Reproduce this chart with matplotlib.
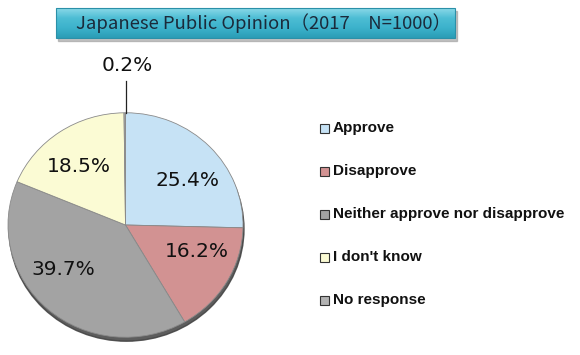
import matplotlib
matplotlib.use("Agg")
import matplotlib.pyplot as plt
import numpy as np
from matplotlib.patches import Rectangle, Ellipse
from matplotlib.transforms import Affine2D
from matplotlib.colors import LinearSegmentedColormap

categories = ["Approve", "Disapprove", "Neither approve nor disapprove", "I don't know", "No response"]
values = [25.4, 16.2, 39.7, 18.5, 0.2]
colors = ["#c6e2f5", "#d29292", "#a3a3a3", "#fbfbd4", "#b3b3b3"]
title = "Japanese Public Opinion（2017　N=1000）"

W, H = 580, 355
fig = plt.figure(figsize=(W/100, H/100), dpi=100)
ax = fig.add_axes([0, 0, 1, 1])

cx, cy, r = 125.5, H - 225, 117.5
yscale = 0.955
squash = Affine2D().translate(-cx, -cy).scale(1, yscale).translate(cx, cy)

explode = [0.035, 0, 0, 0, 0]
wedges, _ = ax.pie(values, colors=colors, startangle=90, counterclock=False,
                   center=(cx, cy), radius=r, explode=explode,
                   wedgeprops=dict(edgecolor="#8a8a8a", linewidth=0.6), frame=True)
for w in wedges:
    w.set_zorder(2)
    w.set_transform(squash + ax.transData)

# pie shadow
ax.add_patch(Ellipse((cx + 1, cy - 4), 2*r, 2*r*yscale, color="#404040", alpha=0.85, zorder=1))

ax.set_xlim(0, W)
ax.set_ylim(0, H)
ax.set_aspect('equal')
ax.axis('off')

# labels (offsets relative to pie centre, in radius units)
label_pos = [(0.53, 0.40), (0.61, -0.24), (-0.53, -0.40), (-0.40, 0.52)]
for (dx, dy), v in zip(label_pos, values[:4]):
    ax.text(cx + dx*r, cy + dy*r*yscale, f"{v:.1f}%", ha="center", va="center",
            fontsize=14.5, color="#111111", zorder=5)
# smallest slice label with leader line
top = cy + r*yscale
ax.plot([cx, cx], [top, top + 32], color="#222222", lw=0.9, zorder=5)
ax.text(cx + 1.5, top + 47, f"{values[4]:.1f}%", ha="center", va="center",
        fontsize=14.5, color="#111111", zorder=5)

# title box with shadow and gradient
bx0, by0, bw, bh = 56, H - 38, 399, 30
ax.add_patch(Rectangle((bx0 + 2, by0 - 3), bw, bh, color="#9a9a9a", alpha=0.6, zorder=3))
grad = np.linspace(0, 1, 64).reshape(-1, 1)
cmap = LinearSegmentedColormap.from_list("g", ["#2a9db6", "#3cb2cb", "#4dbdd4", "#8ad9e8"])
im = ax.imshow(grad, extent=(bx0, bx0 + bw, by0, by0 + bh), cmap=cmap,
               origin="lower", aspect="auto", zorder=4, interpolation="bilinear")
rect = Rectangle((bx0, by0), bw, bh, facecolor="none", edgecolor="#2b90a8", lw=0.8, zorder=5)
ax.add_patch(rect)
im.set_clip_path(rect)
ax.text(263, by0 + bh/2, title, ha="center", va="center", fontsize=13.3,
        color="#1b2a3a", family=["Noto Sans CJK JP", "DejaVu Sans"], zorder=6)

# legend
lx, ly0, dy = 320, H - 128, 43
for i, (c, lab) in enumerate(zip(colors, categories)):
    y = ly0 - i*dy
    ax.add_patch(Rectangle((lx, y - 4.5), 9, 9, facecolor=c, edgecolor="#333333", lw=0.8, zorder=5))
    ax.text(lx + 13, y, lab, ha="left", va="center", fontsize=11, fontweight="bold",
            family="Liberation Sans", color="#111111", zorder=5)

fig.savefig("out.png", dpi=100)
